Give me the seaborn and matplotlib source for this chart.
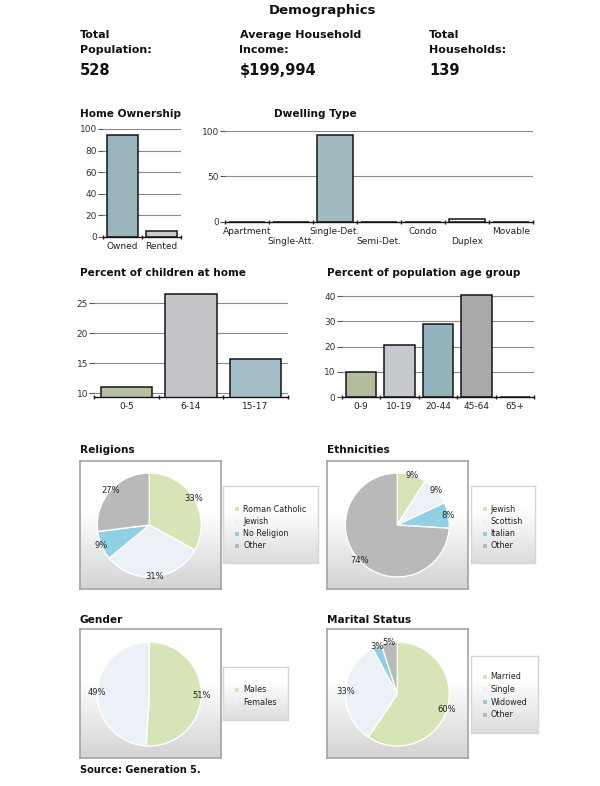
import numpy as np
import pandas as pd
import matplotlib
matplotlib.use("Agg")
import matplotlib.pyplot as plt
import seaborn as sns
from matplotlib.patches import Rectangle
from matplotlib.colors import to_rgb

# ---------------- data ----------------
header_titles = ["Total\nPopulation:", "Average Household\nIncome:", "Total\nHouseholds:"]
header_values = ["528", "$199,994", "139"]

home_cats = ["Owned", "Rented"]
home_vals = [94, 6]

dwell_cats = ["Apartment", "Single-Att.", "Single-Det.", "Semi-Det.", "Condo", "Duplex", "Movable"]
dwell_vals = [0, 0, 96, 0, 0, 3.5, 0]

child_cats = ["0-5", "6-14", "15-17"]
child_vals = [11.1, 26.5, 15.7]

age_cats = ["0-9", "10-19", "20-44", "45-64", "65+"]
age_vals = [10, 20.5, 29, 40.5, 0]

rel_labels = ["Roman Catholic", "Jewish", "No Religion", "Other"]
rel_vals = [33, 31, 9, 27]

eth_labels = ["Jewish", "Scottish", "Italian", "Other"]
eth_vals = [9, 9, 8, 74]

gen_labels = ["Males", "Females"]
gen_vals = [51, 49]

mar_labels = ["Married", "Single", "Widowed", "Other"]
mar_vals = [60, 33, 3, 5]

# ---------------- style ----------------
sns.set_theme(style="white")
plt.rcParams['font.family'] = ['DejaVu Sans']

W, H = 600, 786
fig = plt.figure(figsize=(6, 7.86), dpi=100)
fig.patch.set_facecolor("white")

PIE_COLS = ["#d6e4b6", "#ecf1f8", "#8fd0e2", "#b9b9b9"]


def px_axes(x0, y0, x1, y1, **kw):
    return fig.add_axes([x0 / W, 1 - y1 / H, (x1 - x0) / W, (y1 - y0) / H], **kw)


def ftext(x, y, s, **kw):
    return fig.text(x / W, 1 - y / H, s, **kw)


# ---------------- header ----------------
ftext(322, 10.5, "Demographics", ha="center", va="center", fontsize=9.5, fontweight="bold", color="#111")
for xh, t, v in zip([80, 239.5, 429], header_titles, header_values):
    l1, l2 = t.split("\n")
    ftext(xh, 37.7, l1, ha="left", va="baseline", fontsize=8, fontweight="bold", color="#111")
    ftext(xh, 53.3, l2, ha="left", va="baseline", fontsize=8, fontweight="bold", color="#111")
    ftext(xh, 75, v, ha="left", va="baseline", fontsize=10.5, fontweight="bold", color="#111")


# ---------------- bar charts ----------------
def bar_chart(rect, cats, vals, colors, ylim, yticks, alt=False):
    ax = px_axes(*rect)
    df = pd.DataFrame({"cat": cats, "val": vals})
    sns.barplot(data=df, x="cat", y="val", hue="cat", palette=colors, legend=False,
                ax=ax, width=0.8, edgecolor="#151515", linewidth=1.1, saturation=1)
    ax.set_ylim(*ylim)
    ax.set_yticks(yticks)
    ax.set_xlim(-0.5, len(cats) - 0.5)
    ax.set_axisbelow(True)
    ax.yaxis.grid(True, color="#8a8a8a", lw=0.8)
    ax.xaxis.grid(False)
    for s in ["top", "right", "left"]:
        ax.spines[s].set_visible(False)
    ax.spines["bottom"].set_color("#151515")
    ax.spines["bottom"].set_linewidth(1.0)
    ax.set_xlabel("")
    ax.set_ylabel("")
    labels = [c if (not alt or i % 2 == 0) else "\n" + c for i, c in enumerate(cats)]
    ax.set_xticks(range(len(cats)))
    ax.set_xticklabels(labels)
    ax.set_xticks(np.arange(-0.5, len(cats)), minor=True)
    ax.tick_params(axis="x", which="major", length=0, labelsize=6.5, pad=3.5, labelcolor="#222")
    ax.tick_params(axis="x", which="minor", bottom=True, length=3, direction="inout",
                   color="#222", width=1)
    ax.tick_params(axis="y", left=True, length=3.5, direction="out", color="#555",
                   labelsize=6.5, pad=1, labelcolor="#333", width=0.8)
    ax.patch.set_alpha(0)
    return ax


ftext(80, 116.7, "Home Ownership", ha="left", va="baseline", fontsize=7.6, fontweight="bold", color="#111")
bar_chart((103, 129, 181, 237), home_cats, home_vals, ["#9ab4bb", "#cacaca"],
          (0, 100), [0, 20, 40, 60, 80, 100])

ftext(274, 117.3, "Dwelling Type", ha="left", va="baseline", fontsize=7.6, fontweight="bold", color="#111")
bar_chart((225, 131, 533, 221.7), dwell_cats, dwell_vals,
          ["#ffffff", "#ffffff", "#a2bbc1", "#ffffff", "#ffffff", "#ffffff", "#ffffff"],
          (0, 100), [0, 50, 100], alt=True)

ftext(80, 276, "Percent of children at home", ha="left", va="baseline", fontsize=7.6, fontweight="bold", color="#111")
bar_chart((94.3, 290, 287.7, 396.7), child_cats, child_vals, ["#b7c0a3", "#c3c5c8", "#a3bec5"],
          (9.43, 27.2), [10, 15, 20, 25])

ftext(327.3, 276, "Percent of population age group", ha="left", va="baseline", fontsize=7.6, fontweight="bold", color="#111")
bar_chart((341.7, 290, 534.3, 397.3), age_cats, age_vals,
          ["#b3bd9e", "#c5c8cc", "#93b3bd", "#aaaaaa", "#cccccc"],
          (0, 42.4), [0, 10, 20, 30, 40])


# ---------------- pie panels ----------------
def grad_box(x0, y0, x1, y1, top="#ffffff", bottom="#d3d3d3", edge="#a3a3a3", start=0.4, lw=1.2):
    ax = px_axes(x0, y0, x1, y1)
    t = np.linspace(0, 1, 256)
    g = np.clip((t - start) / (1 - start), 0, 1)
    c0 = np.array(to_rgb(top))
    c1 = np.array(to_rgb(bottom))
    img = (c0[None, :] * (1 - g[:, None]) + c1[None, :] * g[:, None])[:, None, :]
    ax.imshow(img, aspect="auto", extent=[0, 1, 0, 1], origin="upper")
    ax.set_xticks([])
    ax.set_yticks([])
    ax.set_xlim(0, 1)
    ax.set_ylim(0, 1)
    for s in ax.spines.values():
        s.set_color(edge)
        s.set_linewidth(lw)
    return ax


def pie_panel(title, tx, ty, box, center, r, labels, vals, legbox, mx, rows):
    ftext(tx, ty, title, ha="left", va="baseline", fontsize=7.6, fontweight="bold", color="#111")
    grad_box(*box)
    cx, cy = center
    ax = px_axes(cx - r, cy - r, cx + r, cy + r)
    it = iter(vals)
    ax.pie(vals, colors=PIE_COLS[:len(vals)], startangle=90, counterclock=False,
           wedgeprops=dict(edgecolor="white", linewidth=1.0),
           autopct=lambda p: f"{next(it)}%", pctdistance=1.0,
           textprops=dict(fontsize=6, color="#222"))
    ax.set_xlim(-1, 1)
    ax.set_ylim(-1, 1)
    ax.set_aspect("auto")
    ax.patch.set_alpha(0)
    for t in ax.texts:
        t.set_clip_on(False)
    grad_box(*legbox, top="#ffffff", bottom="#dcdcdc", edge="#d6d6d6", start=0.3, lw=1.0)
    for lab, col, ry in zip(labels, PIE_COLS, rows):
        fig.add_artist(Rectangle(((mx - 2) / W, 1 - (ry + 2) / H), 4 / W, 4 / H,
                                 transform=fig.transFigure, facecolor=col, edgecolor="none", zorder=5))
        ftext(mx + 6, ry, lab, ha="left", va="center", fontsize=5.8, color="#222", zorder=6)


pie_panel("Religions", 80, 453.3, (80, 460.7, 220.7, 589), (149.3, 525), 52,
          rel_labels, rel_vals, (222.7, 485.7, 318.3, 563), 237, [509.3, 521.5, 533.7, 546])
pie_panel("Ethnicities", 327.3, 453.3, (327.3, 460.7, 467.7, 589), (397.3, 525), 52,
          eth_labels, eth_vals, (470.7, 485.7, 535, 563.3), 484.5, [509.3, 521.5, 533.7, 546])
pie_panel("Gender", 80, 622.7, (80, 629.3, 220.7, 758.3), (149.3, 694), 52,
          gen_labels, gen_vals, (222.7, 667.3, 288, 720), 237, [690, 702.3])
pie_panel("Marital Status", 327.3, 622.7, (327.3, 629.3, 467.7, 758.3), (397.3, 694), 52,
          mar_labels, mar_vals, (470.7, 655.7, 538.3, 732.7), 484.5, [676.7, 689.3, 702.3, 714.7])

ftext(80, 773.3, "Source: Generation 5.", ha="left", va="baseline", fontsize=7, fontweight="bold", color="#111")

fig.savefig("out.png", dpi=100, facecolor="white")
